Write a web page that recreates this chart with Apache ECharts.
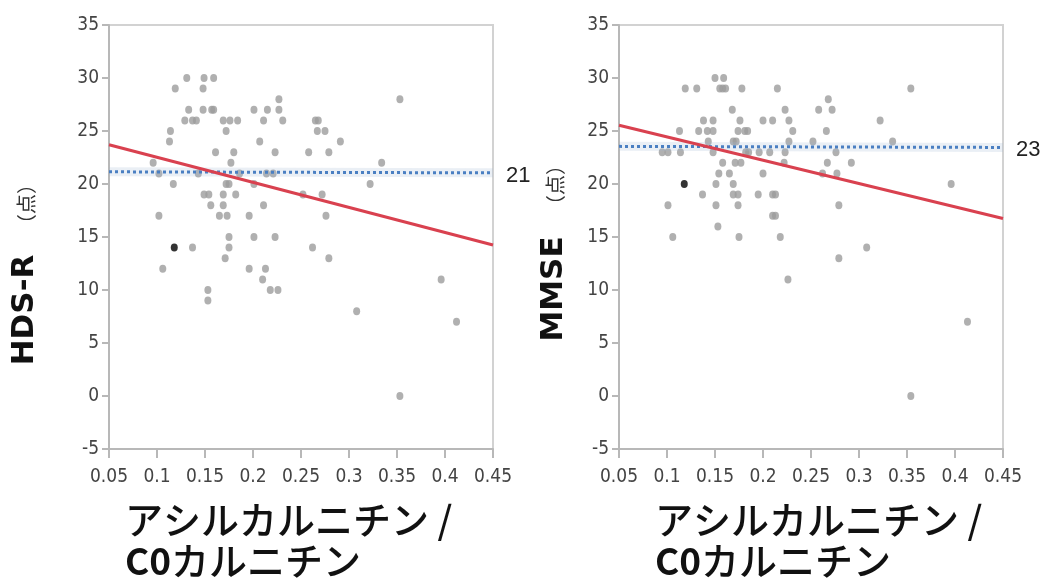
<!DOCTYPE html>
<html>
<head>
<meta charset="utf-8">
<style>
html,body{margin:0;padding:0;background:#fff;}
#c{width:1053px;height:588px;}
</style>
<script src="https://cdn.jsdelivr.net/npm/echarts@6/dist/echarts.min.js"></script>
</head>
<body>
<div id="c"></div>
<script>
// ---- data ----
const xTicks = [0.05, 0.1, 0.15, 0.2, 0.25, 0.3, 0.35, 0.4, 0.45];
const yTicks = [-5, 0, 5, 10, 15, 20, 25, 30, 35];

const hdsX = [0.096,0.102,0.102,0.113,0.114,0.117,0.119,0.131,0.133,0.129,0.137,0.141,0.143,0.148,0.149,0.148,0.157,0.159,0.159,0.149,0.154,0.156,0.165,0.169,0.172,0.169,0.169,0.173,0.172,0.175,0.177,0.176,0.184,0.180,0.182,0.186,0.161,0.196,0.201,0.201,0.207,0.211,0.211,0.215,0.214,0.221,0.223,0.227,0.227,0.231,0.252,0.258,0.265,0.268,0.267,0.275,0.272,0.279,0.276,0.291,0.322,0.334,0.353,0.175,0.201,0.223,0.137,0.106,0.153,0.153,0.171,0.175,0.196,0.213,0.210,0.218,0.226,0.262,0.279,0.308,0.353,0.396,0.412];
const hdsY = [22,21,17,24,25,20,29,30,27,26,26,26,21,29,30,27,27,27,30,19,19,18,17,26,25,19,18,17,20,20,22,26,26,23,19,21,23,17,27,20,24,26,18,27,21,21,23,28,27,26,19,23,26,26,25,25,19,23,17,24,20,22,28,15,15,15,14,12,9,10,13,14,12,12,11,10,10,14,13,8,0,11,7];
const hdsHighlight = [[0.118, 14]];
const hdsFit = [[0.05, 23.7], [0.45, 14.25]];
const hdsMean = [[0.05, 21.15], [0.45, 21.05]];
const hdsMeanLabel = '21';

const mmseX = [0.095,0.101,0.101,0.106,0.113,0.114,0.119,0.131,0.133,0.138,0.137,0.142,0.143,0.148,0.148,0.148,0.150,0.151,0.151,0.153,0.155,0.158,0.161,0.159,0.154,0.158,0.165,0.168,0.169,0.172,0.169,0.169,0.174,0.171,0.177,0.174,0.175,0.176,0.174,0.181,0.184,0.178,0.182,0.185,0.196,0.195,0.200,0.200,0.207,0.210,0.210,0.213,0.210,0.213,0.215,0.218,0.222,0.223,0.223,0.227,0.227,0.231,0.226,0.252,0.258,0.262,0.266,0.267,0.268,0.272,0.276,0.277,0.279,0.279,0.292,0.308,0.322,0.335,0.354,0.354,0.396,0.413];
const mmseY = [23,23,18,15,25,23,29,29,25,26,19,25,24,26,25,23,30,20,18,16,29,29,29,30,21,22,21,27,24,24,20,19,19,22,22,18,15,26,25,25,25,29,23,23,23,19,26,21,23,26,19,19,17,17,29,15,22,23,27,26,24,25,11,24,27,21,25,22,28,27,23,21,18,13,22,14,26,24,29,0,20,7];
const mmseHighlight = [[0.118, 20]];
const mmseFit = [[0.05, 25.55], [0.45, 16.75]];
const mmseMean = [[0.05, 23.55], [0.45, 23.45]];
const mmseMeanLabel = '23';

const xTitle1 = 'アシルカルニチン /';
const xTitle2a = 'C0';
const xTitle2b = 'カルニチン';
const yTitles = ['HDS-R', 'MMSE'];
const yUnit = '（点）';

// ---- chart ----
const chart = echarts.init(document.getElementById('c'));
const tickFont = "'DejaVu Sans Condensed','Liberation Sans Narrow','Arial Narrow',sans-serif";
function zip(xs, ys){ return xs.map((x,i)=>[x, ys[i]]); }

function xAxisOpt(idx){
  return {
    gridIndex: idx, type: 'value', min: xTicks[0], max: xTicks[xTicks.length-1], interval: 0.05,
    axisLine: {show: true, onZero: false, lineStyle: {color: '#b8b8b8', width: 2}},
    axisTick: {show: true, length: 9, lineStyle: {color: '#b8b8b8', width: 2}},
    axisLabel: {color: '#444', fontFamily: tickFont, fontSize: 19, margin: 19,
      formatter: v => String(parseFloat(v.toFixed(2)))},
    splitLine: {show: false}
  };
}
function yAxisOpt(idx){
  return {
    gridIndex: idx, type: 'value', min: yTicks[0], max: yTicks[yTicks.length-1], interval: 5,
    axisLine: {show: true, onZero: false, lineStyle: {color: '#b8b8b8', width: 2}},
    axisTick: {show: true, length: 7, lineStyle: {color: '#b8b8b8', width: 2}},
    axisLabel: {color: '#444', fontFamily: tickFont, fontSize: 19, margin: 10},
    splitLine: {show: false}
  };
}
function panelSeries(idx, xs, ys, hi, fit, mean, meanLabel){
  return [
    {type: 'scatter', xAxisIndex: idx, yAxisIndex: idx, data: zip(xs, ys), symbol: 'circle',
      symbolSize: [7, 8], itemStyle: {color: '#9c9c9c'}, silent: true, z: 2},
    {type: 'scatter', xAxisIndex: idx, yAxisIndex: idx, data: hi, symbol: 'circle',
      symbolSize: [7, 8], itemStyle: {color: '#000'}, silent: true, z: 3},
    {type: 'line', xAxisIndex: idx, yAxisIndex: idx, data: mean, symbol: 'none',
      lineStyle: {color: 'rgba(160,180,210,0.22)', width: 9}, silent: true, z: 3},
    {type: 'line', xAxisIndex: idx, yAxisIndex: idx, data: mean, symbol: 'none',
      lineStyle: {color: '#4a7fc2', width: 3, type: [3, 3]}, silent: true, z: 4,
      endLabel: {show: true, formatter: meanLabel, distance: 13, color: '#222',
        fontFamily: "'Liberation Sans',Arial,sans-serif", fontSize: 22, offset: [0, 3]}},
    {type: 'line', xAxisIndex: idx, yAxisIndex: idx, data: fit, symbol: 'none',
      lineStyle: {color: '#d9414f', width: 3}, silent: true, z: 5}
  ];
}

const titleColor = '#111';
const jpFont = "'Noto Sans CJK JP'";
const option = {
  animation: false,
  backgroundColor: '#fff',
  grid: [
    {left: 109, top: 25, width: 384, height: 424, show: true, borderColor: '#d2d2d2', borderWidth: 2, backgroundColor: 'transparent'},
    {left: 619, top: 25, width: 384, height: 424, show: true, borderColor: '#d2d2d2', borderWidth: 2, backgroundColor: 'transparent'}
  ],
  xAxis: [xAxisOpt(0), xAxisOpt(1)],
  yAxis: [yAxisOpt(0), yAxisOpt(1)],
  series: [].concat(
    panelSeries(0, hdsX, hdsY, hdsHighlight, hdsFit, hdsMean, hdsMeanLabel),
    panelSeries(1, mmseX, mmseY, mmseHighlight, mmseFit, mmseMean, mmseMeanLabel)
  ),
  graphic: [
    // y titles
    {type: 'text', x: 25, y: 310, rotation: Math.PI/2,
      style: {text: yTitles[0], font: "bold 31px 'DejaVu Sans'", fill: titleColor, align: 'center', verticalAlign: 'middle'}},
    {type: 'text', x: 26, y: 204, rotation: Math.PI/2,
      style: {text: yUnit, font: "20px " + jpFont, fill: '#333', align: 'center', verticalAlign: 'middle'}},
    {type: 'text', x: 554, y: 289, rotation: Math.PI/2,
      style: {text: yTitles[1], font: "bold 31px 'DejaVu Sans'", fill: titleColor, align: 'center', verticalAlign: 'middle'}},
    {type: 'text', x: 555, y: 185, rotation: Math.PI/2,
      style: {text: yUnit, font: "20px " + jpFont, fill: '#333', align: 'center', verticalAlign: 'middle'}},
    // x titles
    {type: 'text', x: 125, y: 520,
      style: {text: xTitle1, font: "500 38px " + jpFont, fill: titleColor, align: 'left', verticalAlign: 'middle'}},
    {type: 'text', x: 125, y: 561,
      style: {text: '{b|' + xTitle2a + '}{n|' + xTitle2b + '}', align: 'left', verticalAlign: 'middle',
        rich: {b: {font: "bold 37px " + jpFont, fill: titleColor}, n: {font: "500 38px " + jpFont, fill: titleColor}}}},
    {type: 'text', x: 655, y: 520,
      style: {text: xTitle1, font: "500 38px " + jpFont, fill: titleColor, align: 'left', verticalAlign: 'middle'}},
    {type: 'text', x: 655, y: 561,
      style: {text: '{b|' + xTitle2a + '}{n|' + xTitle2b + '}', align: 'left', verticalAlign: 'middle',
        rich: {b: {font: "bold 37px " + jpFont, fill: titleColor}, n: {font: "500 38px " + jpFont, fill: titleColor}}}}
  ]
};
chart.setOption(option);
</script>
</body>
</html>
